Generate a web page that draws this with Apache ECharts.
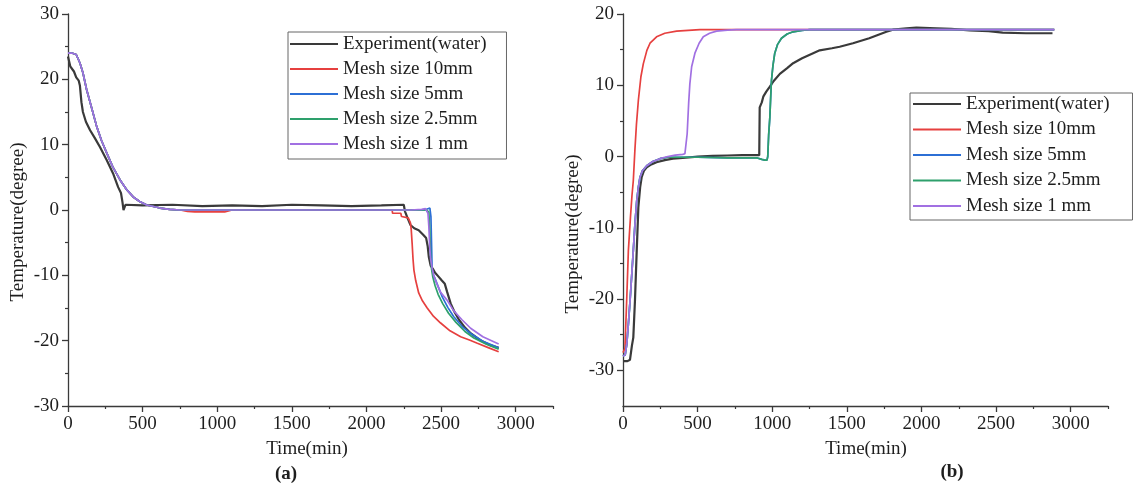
<!DOCTYPE html>
<html><head><meta charset="utf-8">
<script src="https://cdn.jsdelivr.net/npm/echarts@6/dist/echarts.min.js"></script>
<style>html,body{margin:0;padding:0;background:#fff}#c{width:1135px;height:489px}</style>
</head><body><div id="c"></div>
<script>
const seriesNames = ['Experiment(water)', 'Mesh size 10mm', 'Mesh size 5mm', 'Mesh size 2.5mm', 'Mesh size 1 mm'];
const seriesColors = ['#3a3a3a', '#e6403f', '#2c6fd5', '#2ea06c', '#a170e2'];

const xTickValues = [0, 500, 1000, 1500, 2000, 2500, 3000];
const xMinorValues = [250, 750, 1250, 1750, 2250, 2750, 3250];
const aYTickValues = [-30, -20, -10, 0, 10, 20, 30];
const aYMinorValues = [-25, -15, -5, 5, 15, 25];
const bYTickValues = [-30, -20, -10, 0, 10, 20];
const bYMinorValues = [-25, -15, -5, 5, 15];

// ---- Panel (a) ----
const aExpT = [0, 15, 40, 55, 65, 72, 80, 90, 100, 120, 148, 180, 215, 260, 302, 336, 355, 365, 372, 385, 500, 700, 900, 1100, 1300, 1500, 1700, 1900, 2100, 2250, 2258, 2275, 2295, 2320, 2350, 2380, 2400, 2410, 2418, 2430, 2445, 2460, 2483, 2505, 2525, 2540, 2564, 2590, 2620, 2660, 2700, 2760, 2820, 2886];
const aExpV = [23.5, 22.0, 21.2, 20.3, 20.5, 19.8, 19.0, 16.5, 15.0, 13.5, 12.2, 11.0, 9.6, 7.6, 5.6, 3.5, 2.6, 1.2, 0.0, 0.8, 0.7, 0.8, 0.6, 0.7, 0.6, 0.8, 0.7, 0.6, 0.7, 0.8, -0.2, -1.2, -2.3, -2.8, -3.1, -3.8, -4.3, -5.5, -7.2, -8.5, -9.0, -9.6, -10.2, -10.8, -11.3, -12.5, -14.3, -15.6, -16.8, -18.0, -18.9, -19.9, -20.6, -21.1];

const a10T = [0, 30, 55, 80, 100, 125, 160, 192, 225, 260, 300, 349, 390, 437, 480, 528, 580, 617, 680, 752, 800, 850, 1050, 1100, 2172, 2175, 2230, 2235, 2280, 2295, 2300, 2306, 2312, 2318, 2330, 2350, 2375, 2407, 2450, 2497, 2560, 2631, 2690, 2743, 2820, 2886];
const a10V = [24, 24, 23.8, 22.5, 21, 18.4, 15.5, 12.8, 10.6, 8.7, 6.6, 4.6, 3.2, 2.0, 1.3, 0.77, 0.5, 0.3, 0.1, 0, -0.2, -0.3, -0.3, 0, 0, -0.5, -0.5, -1.0, -1.2, -2.0, -3.0, -5.1, -7.5, -9.2, -10.8, -12.7, -13.9, -15.0, -16.3, -17.3, -18.5, -19.4, -19.9, -20.4, -21.1, -21.7];

const a5T = [0, 30, 55, 80, 100, 125, 160, 192, 225, 260, 300, 349, 390, 437, 480, 528, 580, 617, 680, 752, 2390, 2400, 2425, 2432, 2436, 2440, 2450, 2463, 2485, 2508, 2545, 2584, 2640, 2698, 2780, 2886];
const a5V = [24, 24, 23.8, 22.5, 21, 18.4, 15.5, 12.8, 10.6, 8.7, 6.6, 4.6, 3.2, 2.0, 1.3, 0.77, 0.5, 0.3, 0.1, 0, 0, 0.3, 0.3, -1, -5, -9.2, -10.0, -10.7, -12.0, -13.3, -14.9, -16.3, -17.8, -18.9, -20.1, -21.1];

const a25T = [0, 30, 55, 80, 100, 125, 160, 192, 225, 260, 300, 349, 390, 437, 480, 528, 580, 617, 680, 752, 2400, 2410, 2418, 2424, 2430, 2436, 2445, 2460, 2480, 2510, 2550, 2600, 2660, 2720, 2800, 2886];
const a25V = [24, 24, 23.8, 22.5, 21, 18.4, 15.5, 12.8, 10.6, 8.7, 6.6, 4.6, 3.2, 2.0, 1.3, 0.77, 0.5, 0.3, 0.1, 0, 0, 0.1, -0.3, -3, -7.0, -9.0, -10.3, -11.6, -12.9, -14.3, -15.8, -17.2, -18.6, -19.6, -20.5, -21.3];

const a1T = [0, 30, 55, 80, 100, 125, 160, 192, 225, 260, 300, 349, 390, 437, 480, 528, 580, 617, 680, 752, 2300, 2370, 2395, 2405, 2412, 2418, 2424, 2430, 2440, 2450, 2470, 2497, 2540, 2584, 2640, 2698, 2780, 2886];
const a1V = [24, 24, 23.8, 22.5, 21, 18.4, 15.5, 12.8, 10.6, 8.7, 6.6, 4.6, 3.2, 2.0, 1.3, 0.77, 0.5, 0.3, 0.1, 0, 0, 0.1, 0.2, 0.2, -0.5, -2.5, -5.6, -7.5, -8.9, -10.0, -11.2, -12.6, -13.8, -15.4, -16.8, -18.1, -19.4, -20.5, -21.4];

// ---- Panel (b) ----
const bExpT = [0, 30, 47, 60, 69, 80, 92, 103, 115, 125, 140, 159, 190, 225, 280, 335, 400, 500, 600, 700, 800, 880, 913, 916, 930, 940, 960, 984, 1010, 1051, 1100, 1140, 1200, 1274, 1318, 1400, 1452, 1541, 1650, 1765, 1809, 1900, 1966, 2100, 2200, 2323, 2450, 2544, 2700, 2878];
const bExpV = [-28.7, -28.7, -28.5, -26.5, -25.4, -20.3, -13.2, -7.1, -4.3, -2.9, -2.0, -1.5, -1.1, -0.8, -0.5, -0.3, -0.2, 0.0, 0.1, 0.15, 0.2, 0.2, 0.2, 6.9, 7.6, 8.4, 9.1, 9.8, 10.6, 11.6, 12.4, 13.1, 13.8, 14.5, 14.9, 15.2, 15.4, 15.9, 16.6, 17.5, 17.8, 18.0, 18.1, 18.0, 17.9, 17.7, 17.6, 17.4, 17.3, 17.3];

const b10T = [0, 13, 25, 36, 50, 60, 69, 80, 90, 103, 120, 136, 160, 181, 225, 280, 359, 515, 2890];
const b10V = [-27.5, -26.9, -20, -13.2, -8.5, -5.5, -3.4, 1.0, 4.5, 7.9, 11.2, 13.0, 14.9, 15.9, 16.8, 17.3, 17.6, 17.8, 17.8];

const b5T = [0, 15, 25, 36, 47, 58, 69, 80, 92, 103, 114, 130, 159, 200, 248, 300, 500, 700, 900, 930, 950, 965, 970, 976, 984, 990, 995, 1005, 1017, 1035, 1062, 1100, 1140, 1200, 1252, 2890];
const b5V = [-28, -27.8, -26.4, -23.5, -20.3, -16.8, -13.2, -9.5, -6.2, -4.3, -2.9, -2.0, -1.3, -0.7, -0.3, -0.1, -0.1, -0.2, -0.2, -0.4, -0.5, -0.5, 0, 3, 5.5, 8.5, 10.7, 12.8, 14.5, 15.7, 16.6, 17.2, 17.5, 17.7, 17.8, 17.8];

const b25T = [0, 15, 25, 36, 47, 58, 69, 80, 92, 103, 114, 130, 159, 200, 248, 300, 500, 700, 900, 930, 950, 965, 970, 976, 984, 990, 995, 1005, 1017, 1035, 1062, 1100, 1140, 1200, 1252, 2890];
const b25V = [-28, -27.8, -26.4, -23.5, -20.3, -16.8, -13.2, -9.5, -6.2, -4.3, -2.9, -2.0, -1.3, -0.7, -0.3, -0.1, -0.1, -0.2, -0.2, -0.4, -0.5, -0.5, 0, 3, 5.5, 8.5, 10.7, 12.8, 14.5, 15.7, 16.6, 17.2, 17.5, 17.7, 17.8, 17.8];

const b1T = [0, 15, 25, 36, 47, 58, 69, 80, 92, 103, 114, 130, 159, 200, 248, 300, 350, 400, 415, 422, 430, 440, 448, 460, 482, 510, 538, 580, 627, 700, 760, 2890];
const b1V = [-28, -27.8, -26.4, -23.5, -20.3, -16.8, -13.2, -9.5, -6.2, -4.3, -2.9, -2.0, -1.3, -0.7, -0.3, 0.0, 0.2, 0.3, 0.4, 0.4, 3.2, 7.5, 10.2, 12.6, 14.5, 15.9, 16.8, 17.3, 17.6, 17.75, 17.8, 17.8];

const panelA = [[aExpT, aExpV], [a10T, a10V], [a5T, a5V], [a25T, a25V], [a1T, a1V]];
const panelB = [[bExpT, bExpV], [b10T, b10V], [b5T, b5V], [b25T, b25V], [b1T, b1V]];

const FONT = 'Liberation Serif, Times New Roman, serif';
const TXT = '#1e1e1e';
const AXC = '#3a3a3a';
const zip = (t, v) => t.map((x, i) => [x, v[i]]);
const plain = v => String(v);

function xAxisPair(gi) {
  return [
    { gridIndex: gi, type: 'value', min: 0, max: 3250, interval: 500, position: 'bottom',
      axisLine: { show: true, onZero: false, lineStyle: { color: AXC, width: 1.3 } },
      axisTick: { show: true, length: 6, customValues: xTickValues, lineStyle: { color: AXC, width: 1.3 } },
      axisLabel: { customValues: xTickValues, formatter: plain, margin: 9, fontSize: 19, fontFamily: FONT, color: TXT },
      splitLine: { show: false } },
    { gridIndex: gi, type: 'value', min: 0, max: 3250, position: 'bottom', offset: 0,
      axisLine: { show: false, onZero: false },
      axisTick: { show: true, length: 3, customValues: xMinorValues, lineStyle: { color: AXC, width: 1.2 } },
      axisLabel: { show: false }, splitLine: { show: false } }
  ];
}
function yAxisPair(gi, min, max, ticks, minors) {
  return [
    { gridIndex: gi, type: 'value', min: min, max: max, interval: 5, position: 'left',
      axisLine: { show: true, onZero: false, lineStyle: { color: AXC, width: 1.3 } },
      axisTick: { show: true, length: 6, customValues: ticks, lineStyle: { color: AXC, width: 1.3 } },
      axisLabel: { customValues: ticks, formatter: plain, margin: 9, fontSize: 19, fontFamily: FONT, color: TXT },
      splitLine: { show: false } },
    { gridIndex: gi, type: 'value', min: min, max: max, position: 'left', offset: 0,
      axisLine: { show: false, onZero: false },
      axisTick: { show: true, length: 3, customValues: minors, lineStyle: { color: AXC, width: 1.2 } },
      axisLabel: { show: false }, splitLine: { show: false } }
  ];
}

const series = [];
[panelA, panelB].forEach((panel, p) => {
  panel.forEach((d, i) => {
    series.push({
      name: seriesNames[i], type: 'line', xAxisIndex: p * 2, yAxisIndex: p * 2,
      data: zip(d[0], d[1]), symbol: 'none', smooth: false, animation: false,
      lineStyle: { color: seriesColors[i], width: i === 0 ? 2.2 : 1.7 },
      itemStyle: { color: seriesColors[i] }, z: 2 + i
    });
  });
});

function legendAt(left, top, pad, gap) {
  return {
    left: left, top: top, orient: 'vertical', data: seriesNames, selectedMode: false,
    icon: 'rect', itemWidth: 48, itemHeight: 2.2, itemGap: gap, padding: pad,
    borderColor: '#666', borderWidth: 1, backgroundColor: '#fff',
    textStyle: { fontSize: 19, fontFamily: FONT, color: TXT, lineHeight: 20 }
  };
}

function txt(x, y, text, opts) {
  return Object.assign({ type: 'text', x: x, y: y, silent: true,
    style: Object.assign({ text: text, align: 'center', verticalAlign: 'middle', fill: TXT, fontSize: 19, fontFamily: FONT }, (opts && opts.style) || {}) },
    opts && opts.rotation !== undefined ? { rotation: opts.rotation } : {});
}

const chart = echarts.init(document.getElementById('c'), null, { renderer: 'canvas' });
chart.setOption({
  backgroundColor: '#fff',
  animation: false,
  grid: [
    { left: 68, right: 582, top: 14, bottom: 83 },
    { left: 623, right: 27, top: 14, bottom: 83 }
  ],
  xAxis: [...xAxisPair(0), ...xAxisPair(1)],
  yAxis: [...yAxisPair(0, -30, 30, aYTickValues, aYMinorValues), ...yAxisPair(1, -35, 20, bYTickValues, bYMinorValues)],
  legend: [
    legendAt(288, 32, [2, 20, 5, 2], 5),
    legendAt(910, 93, [1, 23, 4, 3], 5.5)
  ],
  graphic: [
    txt(307, 449, 'Time(min)'),
    txt(866, 449, 'Time(min)'),
    txt(18, 222, 'Temperature(degree)', { rotation: Math.PI / 2 }),
    txt(573, 234, 'Temperature(degree)', { rotation: Math.PI / 2 }),
    txt(286, 474, '(a)', { style: { fontWeight: 'bold' } }),
    txt(952, 472, '(b)', { style: { fontWeight: 'bold' } })
  ],
  series: series
});
</script></body></html>
